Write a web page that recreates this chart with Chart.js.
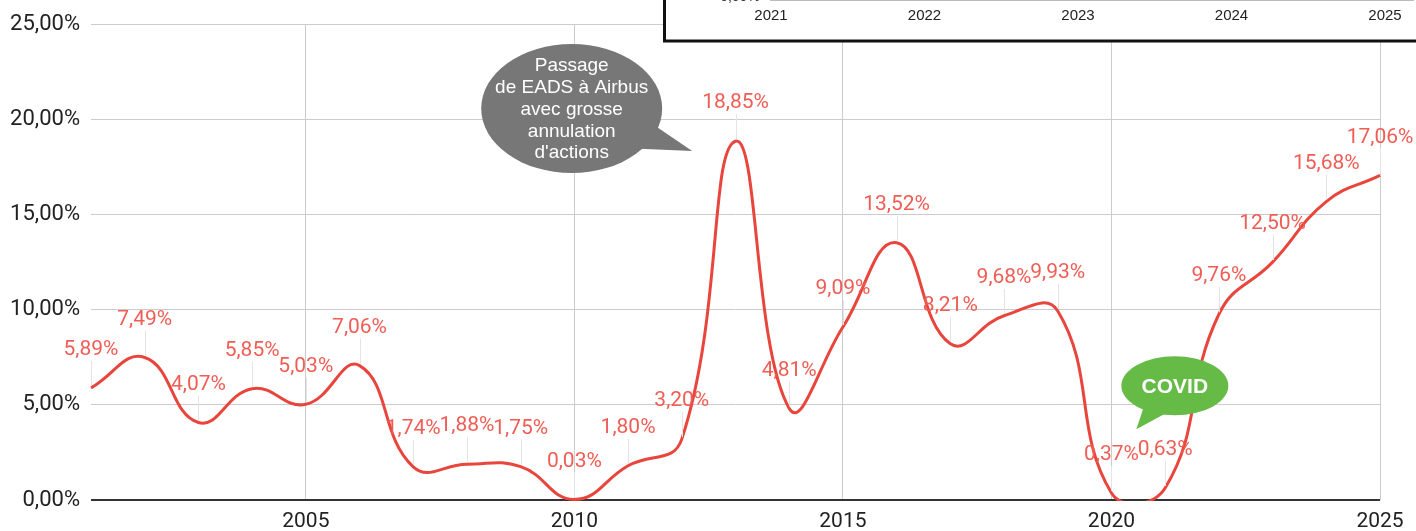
<!DOCTYPE html>
<html>
<head>
<meta charset="utf-8">
<script src="https://cdn.jsdelivr.net/npm/chart.js@4.4.1/dist/chart.umd.min.js"></script>
<style>
  html, body { margin: 0; padding: 0; background: #fff; }
  #wrap { position: relative; width: 1416px; height: 531px; }
</style>
</head>
<body>
<div id="wrap"><canvas id="chart" width="1416" height="531"></canvas></div>
<script>
const years = [2001, 2002, 2003, 2004, 2005, 2006, 2007, 2008, 2009, 2010, 2011, 2012, 2013,
  2014, 2015, 2016, 2017, 2018, 2019, 2020, 2021, 2022, 2023, 2024, 2025];
const rates = [5.89, 7.49, 4.07, 5.85, 5.03, 7.06, 1.74, 1.88, 1.75, 0.03, 1.80, 3.20, 18.85,
  4.81, 9.09, 13.52, 8.21, 9.68, 9.93, 0.37, 0.63, 9.76, 12.50, 15.68, 17.06];
const yTicks = [0, 5, 10, 15, 20, 25];
const xTicks = [2005, 2010, 2015, 2020, 2025];
const insetYears = ['2021', '2022', '2023', '2024', '2025'];
const eadsText = ['Passage', 'de EADS à Airbus', 'avec grosse', 'annulation', "d'actions"];
const covidText = ['COVID'];

const lineColor = '#e8453c';
const labelColor = '#ef5d55';

function pct(v) {
  return v.toFixed(2).replace('.', ',') + '%';
}

// valeurs au-dessus de chaque point, avec petite tige grise
const pointLabels = {
  id: 'pointLabels',
  afterDatasetsDraw(chart) {
    const ctx = chart.ctx;
    const meta = chart.getDatasetMeta(0);
    ctx.save();
    ctx.font = '21px Roboto';
    ctx.textAlign = 'center';
    ctx.textBaseline = 'middle';
    meta.data.forEach((pt, i) => {
      const x = Math.round(pt.x) + 0.5;
      ctx.strokeStyle = '#e4e4e4';
      ctx.lineWidth = 1;
      ctx.beginPath();
      ctx.moveTo(x, pt.y - 27);
      ctx.lineTo(x, pt.y - 2);
      ctx.stroke();
      ctx.fillStyle = labelColor;
      ctx.fillText(pct(rates[i]), pt.x, pt.y - 38);
    });
    ctx.restore();
  }
};

function bubble(ctx, cx, cy, rx, ry, tail, color) {
  ctx.fillStyle = color;
  ctx.beginPath();
  ctx.ellipse(cx, cy, rx, ry, 0, 0, Math.PI * 2);
  ctx.fill();
  ctx.beginPath();
  ctx.moveTo(cx + tail[0][0], cy + tail[0][1]);
  ctx.lineTo(cx + tail[1][0], cy + tail[1][1]);
  ctx.lineTo(cx + tail[2][0], cy + tail[2][1]);
  ctx.closePath();
  ctx.fill();
}

const overlays = {
  id: 'overlays',
  afterDraw(chart) {
    const ctx = chart.ctx;
    const sx = chart.scales.x, sy = chart.scales.y;
    ctx.save();

    // bulle grise EADS / Airbus
    let cx = sx.getPixelForValue(2009.95), cy = sy.getPixelForValue(20.57);
    bubble(ctx, cx, cy, 90.5, 64.5, [[80, 15], [62, 40], [120.5, 42.5]], '#777777');
    ctx.fillStyle = '#fff';
    ctx.font = '19px "Liberation Sans", Arial';
    ctx.textAlign = 'center';
    ctx.textBaseline = 'middle';
    eadsText.forEach((t, i) => ctx.fillText(t, cx, cy - 42.5 + i * 21.8));

    // bulle verte COVID
    cx = sx.getPixelForValue(2021.18); cy = sy.getPixelForValue(6.0);
    bubble(ctx, cx, cy, 53.5, 29.5, [[-30, 18], [-8, 27], [-38.5, 43.5]], '#66bb47');
    ctx.fillStyle = '#fff';
    ctx.font = 'bold 21px "Liberation Sans", Arial';
    ctx.fillText(covidText[0], cx, cy + 1);

    // encart d'un autre graphique qui chevauche en haut a droite
    ctx.fillStyle = '#fff';
    ctx.fillRect(664, -10, 800, 51);
    ctx.strokeStyle = '#111';
    ctx.lineWidth = 3;
    ctx.strokeRect(664.5, -10, 800, 51);
    ctx.strokeStyle = '#bbb';
    ctx.lineWidth = 1;
    ctx.beginPath();
    ctx.moveTo(770, 0.5);
    ctx.lineTo(1414, 0.5);
    ctx.stroke();
    ctx.fillStyle = '#333';
    ctx.font = '14px "Liberation Sans", Arial';
    ctx.fillText('0,00%', 740, -3);
    ctx.fillStyle = '#222';
    ctx.font = '15px "Liberation Sans", Arial';
    insetYears.forEach((t, i) => ctx.fillText(t, 771 + i * 153.5, 16));

    ctx.restore();
  }
};

new Chart(document.getElementById('chart'), {
  type: 'line',
  data: {
    datasets: [{
      data: years.map((x, i) => ({ x: x, y: rates[i] })),
      borderColor: lineColor,
      borderWidth: 3,
      pointRadius: 0,
      tension: 0.45,
      capBezierPoints: false,
      clip: { left: 3, top: 5, right: 3, bottom: 1 }
    }]
  },
  options: {
    responsive: false,
    animation: false,
    devicePixelRatio: 1,
    layout: { padding: { top: 23, right: 36, left: 0, bottom: 0 } },
    plugins: { legend: { display: false }, tooltip: { enabled: false } },
    scales: {
      x: {
        type: 'linear',
        min: 2001,
        max: 2025,
        afterBuildTicks: s => { s.ticks = xTicks.map(v => ({ value: v })); },
        afterFit: s => { s.height = 31; },
        ticks: {
          callback: v => String(v),
          font: { family: 'Roboto', size: 21 },
          color: '#222',
          padding: 9,
          maxRotation: 0
        },
        grid: { color: '#cccccc', drawTicks: false },
        border: { display: false }
      },
      y: {
        min: 0,
        max: 25,
        afterBuildTicks: s => { s.ticks = yTicks.map(v => ({ value: v })); },
        afterFit: s => { s.width = 91; },
        ticks: {
          callback: v => pct(v),
          font: { family: 'Roboto', size: 22 },
          color: '#222',
          padding: 11
        },
        grid: {
          color: c => c.tick.value === 0 ? '#333' : '#cccccc',
          lineWidth: c => c.tick.value === 0 ? 2 : 1,
          drawTicks: false
        },
        border: { display: false }
      }
    }
  },
  plugins: [pointLabels, overlays]
});
</script>
</body>
</html>
